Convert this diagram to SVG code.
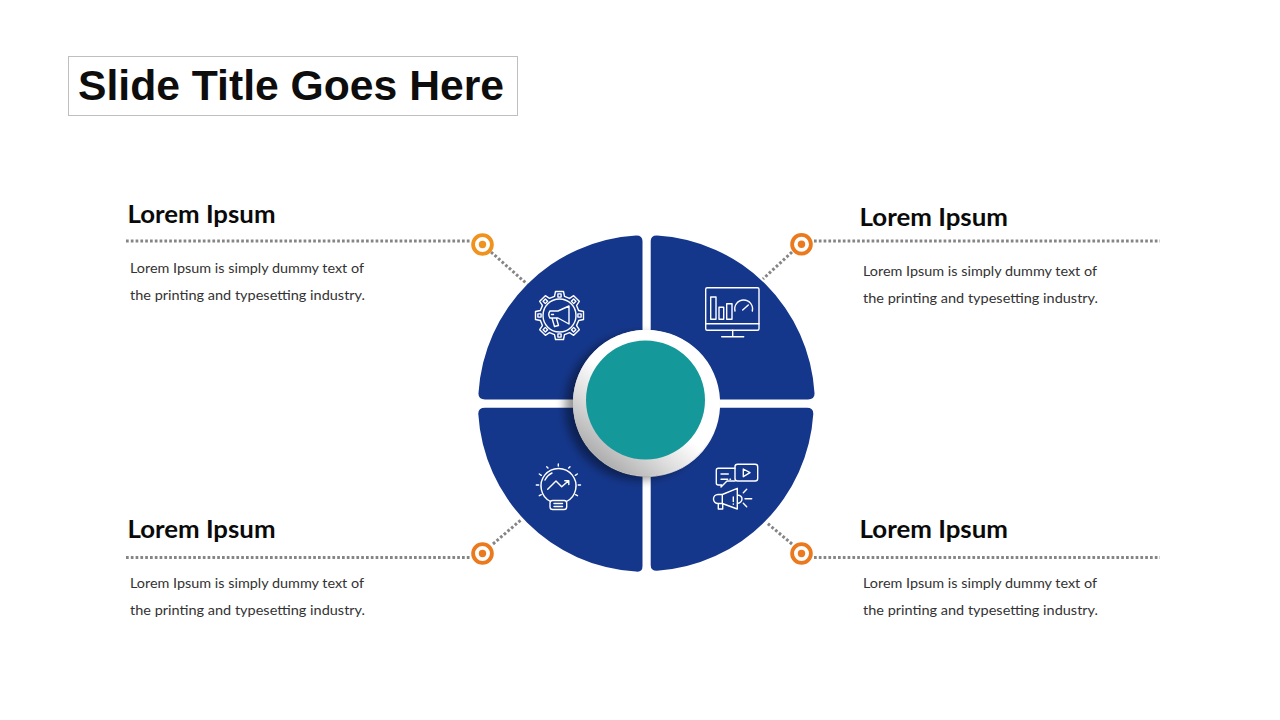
<svg xmlns="http://www.w3.org/2000/svg" xmlns:xlink="http://www.w3.org/1999/xlink" width="1280" height="720" viewBox="0 0 1280 720">
<style>
.seg{fill:#15378B}
.dot{fill:none;stroke:#858585;stroke-width:3;stroke-dasharray:2.7 2.1}
.ic{fill:none;stroke:#fff;stroke-width:1.4;stroke-linecap:round;stroke-linejoin:round}
.h{font-family:"Lato","Open Sans",sans-serif;font-weight:700;font-size:24px;fill:#0a0a0a}
.b{font-family:"Lato","Open Sans",sans-serif;font-size:13px;fill:#333}
.t{font-family:"Liberation Sans",Arial,sans-serif;font-weight:700;font-size:42px;fill:#0d0d0d}
.ro{fill:#fff;stroke-width:3.8}
</style>
<defs>
<linearGradient id="ring" x1="0.85" y1="0.1" x2="0.2" y2="0.9">
<stop offset="0.52" stop-color="#fff"/><stop offset="0.74" stop-color="#dedede"/><stop offset="1" stop-color="#aeaeae"/>
</linearGradient>
<filter id="sh" x="-40%" y="-40%" width="180%" height="180%">
<feGaussianBlur in="SourceAlpha" stdDeviation="5"/><feOffset dx="-8" dy="4"/>
<feComponentTransfer><feFuncA type="linear" slope="0.42"/></feComponentTransfer>
<feMerge><feMergeNode/><feMergeNode in="SourceGraphic"/></feMerge>
</filter>
<g id="tooth">
<path d="M-5-19.2L-4-24H4L5-19.2L9.9-17.1"/>
<rect x="-1.6" y="-21.6" width="3.2" height="3.2"/>
</g>
</defs>
<rect width="1280" height="720" fill="#fff"/>
<g id="title">
<rect x="68.5" y="56.5" width="449" height="59" fill="#fff" stroke="#BFBFBF"/>
<text class="t" x="78" y="100" textLength="426" lengthAdjust="spacingAndGlyphs">Slide Title Goes Here</text>
</g>
<g id="connectors">
<path class="dot" d="M126 241H470"/>
<path class="dot" d="M814 241H1160"/>
<path class="dot" d="M126 557.5H470"/>
<path class="dot" d="M814 557.5H1160"/>
<path class="dot" d="M491 252L527 284"/>
<path class="dot" d="M792 252L763 279"/>
<path class="dot" d="M493 544L522 519"/>
<path class="dot" d="M792 544L767 523"/>
</g>
<g id="segment-tl">
<path class="seg" d="M636 235.4Q642.5 235.2 642.5 241V330A73 73 0 0 0 573 399.5H485Q478 399.5 478.5 393A168 168 0 0 1 636 235.4Z"/>
<g class="ic" transform="translate(559.5 315.5)">
<circle r="16.5"/>
<use xlink:href="#tooth" href="#tooth"/>
<use xlink:href="#tooth" href="#tooth" transform="rotate(45)"/>
<use xlink:href="#tooth" href="#tooth" transform="rotate(90)"/>
<use xlink:href="#tooth" href="#tooth" transform="rotate(135)"/>
<use xlink:href="#tooth" href="#tooth" transform="rotate(180)"/>
<use xlink:href="#tooth" href="#tooth" transform="rotate(225)"/>
<use xlink:href="#tooth" href="#tooth" transform="rotate(270)"/>
<use xlink:href="#tooth" href="#tooth" transform="rotate(315)"/>
<path d="M-1.5-4.5L9.5-9.5V8.5L-1.5 2.5H-9.5Q-12-1-9.5-4.5ZM-7.5 2.500L-5 11L-1 10L-3 3"/>
<path d="M-8-1H-6"/>
</g>
</g>
<g id="segment-tr">
<path class="seg" d="M657 235.4Q650.7 235.2 650.7 241V330A73 73 0 0 1 720 399.5H808Q815 399.5 814.5 393A168 168 0 0 0 657 235.4Z"/>
<g class="ic">
<rect x="705.700" y="287.700" width="53.300" height="42.600" rx="1.500"/>
<path d="M705.700 323.700H759M732.700 330.300V336.800M721.700 336.800H743.700"/>
<rect x="710.700" y="297" width="5.300" height="22.300"/>
<rect x="719" y="307.300" width="4.700" height="12"/>
<rect x="726.700" y="303.700" width="5.300" height="15.600"/>
<path d="M735 311A8.900 8.900 0 1 1 752.300 311M742.700 310L748.300 305"/>
</g>
</g>
<g id="segment-bl">
<path class="seg" d="M636 571.6Q642.5 572.6 642.5 566V476.7A73 73 0 0 1 573 407.7H485Q478 407.7 478.3 414A168 168 0 0 0 636 571.6Z"/>
<g class="ic">
<path d="M550.500 501.500A17.500 17.500 0 1 1 566.500 501.500"/>
<rect x="550" y="500.500" width="16.700" height="9" rx="2.500"/>
<path d="M554 503.500H562.500M554 506.500H562.500M547.700 489.300L556 481L561.700 486.700L568.300 481M564.800 480.800H568.800V484.500M545 480Q547.500 475 552 473M558.300 464V466M546.700 466.700L548 468M570 466.700L568.700 468M539.300 474L541.300 475.300M577.300 474L575.300 475.300M536.300 485H538.700M580.500 485H578.200M539.300 495.700L541.300 494.700M577.500 495.700L575.500 494.700"/>
</g>
</g>
<g id="segment-br">
<path class="seg" d="M657 570.800Q650.700 571 650.700 565V477A73 73 0 0 0 720 407.700H807Q813.500 407.700 813.300 414A168 168 0 0 1 657 570.800Z"/>
<g class="ic">
<path d="M735 481H727L721 487L721.500 485H718.300Q716.300 485 716.300 483V470.300Q716.300 468.300 718.300 468.300H735"/>
<rect x="735" y="464.300" width="22.700" height="16.700" rx="2.500"/>
<path d="M743.300 469L750 472.700L743.300 476.700ZM721 474H728.300M721 479.300H727.700M730 479.300H730.500"/>
<path d="M722.300 494.500L737.300 488.300V509L722.300 503.500ZM722.300 494.500H718A4.500 4.500 0 0 0 718 503.500H722.300M718.300 503.500V509H722.700V503.500M737.300 495Q742 495.500 742 499T737.300 503.500M745 498.700H751.700M743.300 492.700L746.700 489.300M743.300 503.300L746.700 506.700M733.300 497V501.500M733.300 504V504.200"/>
</g>
</g>
<g id="hub">
<circle cx="646" cy="403" r="73" fill="url(#ring)" filter="url(#sh)"/>
<circle cx="645.500" cy="400" r="59.500" fill="#14989A"/>
</g>
<g id="marker-tl"><circle class="ro" cx="482.500" cy="244.500" r="9.400" stroke="#F0921E"/><circle cx="482.500" cy="244.500" r="3.700" fill="#F0921E"/></g>
<g id="marker-tr"><circle class="ro" cx="801.500" cy="244.300" r="9.400" stroke="#EB7A1E"/><circle cx="801.500" cy="244.300" r="3.700" fill="#EB7A1E"/></g>
<g id="marker-bl"><circle class="ro" cx="482.500" cy="553.500" r="9.400" stroke="#EB7A1E"/><circle cx="482.500" cy="553.500" r="3.700" fill="#EB7A1E"/></g>
<g id="marker-br"><circle class="ro" cx="801.500" cy="553.500" r="9.400" stroke="#EB7A1E"/><circle cx="801.500" cy="553.500" r="3.700" fill="#EB7A1E"/></g>
<g id="label-tl">
<text class="h" x="127.500" y="223" textLength="148" lengthAdjust="spacingAndGlyphs">Lorem Ipsum</text>
<text class="b" x="130" y="273" textLength="234" lengthAdjust="spacingAndGlyphs">Lorem Ipsum is simply dummy text of</text>
<text class="b" x="130" y="300" textLength="235" lengthAdjust="spacingAndGlyphs">the printing and typesetting industry.</text>
</g>
<g id="label-tr">
<text class="h" x="859.500" y="226" textLength="148.500" lengthAdjust="spacingAndGlyphs">Lorem Ipsum</text>
<text class="b" x="863" y="276" textLength="234" lengthAdjust="spacingAndGlyphs">Lorem Ipsum is simply dummy text of</text>
<text class="b" x="863" y="303" textLength="235" lengthAdjust="spacingAndGlyphs">the printing and typesetting industry.</text>
</g>
<g id="label-bl">
<text class="h" x="127.500" y="538" textLength="148" lengthAdjust="spacingAndGlyphs">Lorem Ipsum</text>
<text class="b" x="130" y="588" textLength="234" lengthAdjust="spacingAndGlyphs">Lorem Ipsum is simply dummy text of</text>
<text class="b" x="130" y="615" textLength="235" lengthAdjust="spacingAndGlyphs">the printing and typesetting industry.</text>
</g>
<g id="label-br">
<text class="h" x="859.500" y="538" textLength="148.500" lengthAdjust="spacingAndGlyphs">Lorem Ipsum</text>
<text class="b" x="863" y="588" textLength="234" lengthAdjust="spacingAndGlyphs">Lorem Ipsum is simply dummy text of</text>
<text class="b" x="863" y="615" textLength="235" lengthAdjust="spacingAndGlyphs">the printing and typesetting industry.</text>
</g>
</svg>
